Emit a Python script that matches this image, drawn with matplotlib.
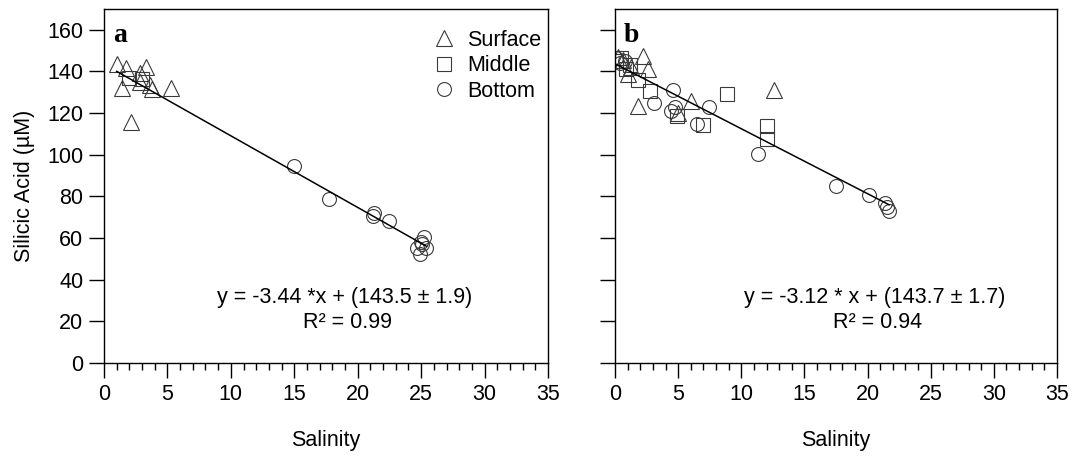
import matplotlib
matplotlib.use("Agg")
import matplotlib.pyplot as plt
import numpy as np
from matplotlib.ticker import MultipleLocator

plt.rcParams['font.family'] = ['Liberation Sans', 'DejaVu Sans']

# Panel a: salinity / silicic acid by depth layer
a_surface_x = [1.0, 1.7, 1.4, 2.1, 2.8, 3.3, 3.6, 3.8, 5.3, 2.8]
a_surface_y = [143.5, 141.5, 132.0, 115.5, 135.0, 142.0, 133.5, 131.5, 132.0, 139.5]
a_middle_x = [2.0, 3.0]
a_middle_y = [137.0, 136.5]
a_bottom_x = [15.0, 17.7, 21.3, 21.2, 22.5, 25.2, 25.0, 24.7, 24.9, 25.4, 25.1]
a_bottom_y = [94.4, 78.6, 72.2, 70.8, 68.3, 60.5, 58.0, 55.0, 52.5, 55.0, 57.0]
a_slope, a_intercept = -3.44, 143.5

# Panel b
b_surface_x = [0.2, 0.6, 1.0, 2.25, 2.6, 1.85, 5.0, 6.0, 12.6, 1.3]
b_surface_y = [147.0, 145.5, 139.0, 147.3, 141.0, 123.6, 120.0, 125.6, 131.2, 142.0]
b_middle_x = [0.1, 0.5, 1.2, 1.85, 2.8, 4.9, 7.0, 8.85, 12.0, 12.0, 0.9]
b_middle_y = [145.0, 146.5, 143.0, 136.0, 130.4, 118.4, 114.4, 129.3, 113.6, 107.5, 141.0]
b_bottom_x = [0.1, 0.4, 0.8, 4.6, 3.1, 4.4, 4.75, 7.45, 6.5, 11.3, 17.5, 20.1, 21.4, 21.5, 21.7]
b_bottom_y = [146.5, 144.0, 145.0, 130.9, 124.8, 120.8, 123.0, 122.9, 114.7, 100.3,
              85.1, 80.8, 76.8, 75.0, 73.2]
b_slope, b_intercept = -3.12, 143.7

x_ticks = [0, 5, 10, 15, 20, 25, 30, 35]
y_ticks = [0, 20, 40, 60, 80, 100, 120, 140, 160]

FS = 15.5

fig = plt.figure(figsize=(10.74, 4.62), dpi=100)
ax_a = fig.add_axes([104 / 1074, 99 / 462, 444 / 1074, 354 / 462])
ax_b = fig.add_axes([615 / 1074, 99 / 462, 442 / 1074, 354 / 462])

marker_kw = dict(linestyle='none', markerfacecolor='none', markeredgewidth=0.8)
edge = '#3a3a3a'


def draw_panel(ax, sx, sy, mx, my, bx, by, slope, intercept, letter, eq, r2, tx):
    ax.plot(sx, sy, marker='^', markersize=11, markeredgecolor=edge, label='Surface', **marker_kw)
    ax.plot(mx, my, marker='s', markersize=9.5, markeredgecolor=edge, label='Middle', **marker_kw)
    ax.plot(bx, by, marker='o', markersize=10, markeredgecolor=edge, label='Bottom', **marker_kw)
    all_x = np.array(list(sx) + list(mx) + list(bx))
    xl = np.array([all_x.min(), all_x.max()])
    ax.plot(xl, slope * xl + intercept, color='black', lw=1.1)

    ax.set_xlim(0, 35)
    ax.set_ylim(0, 170)
    ax.set_xticks(x_ticks)
    ax.set_yticks(y_ticks)
    ax.xaxis.set_minor_locator(MultipleLocator(1))
    ax.tick_params(axis='both', which='major', direction='out', length=11, width=1,
                   labelsize=FS, pad=4, top=False, right=False)
    ax.tick_params(axis='x', which='minor', direction='out', length=5, width=1)
    for sp in ax.spines.values():
        sp.set_linewidth(1.0)
    ax.set_xlabel('Salinity', fontsize=FS, labelpad=18)

    ax.text(0.02, 0.907, letter, transform=ax.transAxes, fontsize=20, fontweight='bold',
            family='Liberation Serif', va='baseline', ha='left')
    ax.text(tx, 0.186, eq, transform=ax.transAxes, fontsize=FS, ha='center', va='center')
    ax.text(tx + 0.005, 0.113, r2, transform=ax.transAxes, fontsize=FS, ha='center', va='center')


draw_panel(ax_a, a_surface_x, a_surface_y, a_middle_x, a_middle_y, a_bottom_x, a_bottom_y,
           a_slope, a_intercept, 'a', 'y = -3.44 *x + (143.5 \u00b1 1.9)', 'R\u00b2 = 0.99', 0.543)
draw_panel(ax_b, b_surface_x, b_surface_y, b_middle_x, b_middle_y, b_bottom_x, b_bottom_y,
           b_slope, b_intercept, 'b', 'y = -3.12 * x + (143.7 \u00b1 1.7)', 'R\u00b2 = 0.94', 0.588)

ax_a.set_ylabel('Silicic Acid (\u00b5M)', fontsize=FS, labelpad=9)
ax_b.set_yticklabels([])

ax_a.legend(loc='upper left', bbox_to_anchor=(0.74, 0.942), frameon=False, fontsize=FS,
            handlelength=1.1, handletextpad=0.5, labelspacing=0.22, borderaxespad=0,
            borderpad=0)

fig.savefig('out.png', dpi=100)
